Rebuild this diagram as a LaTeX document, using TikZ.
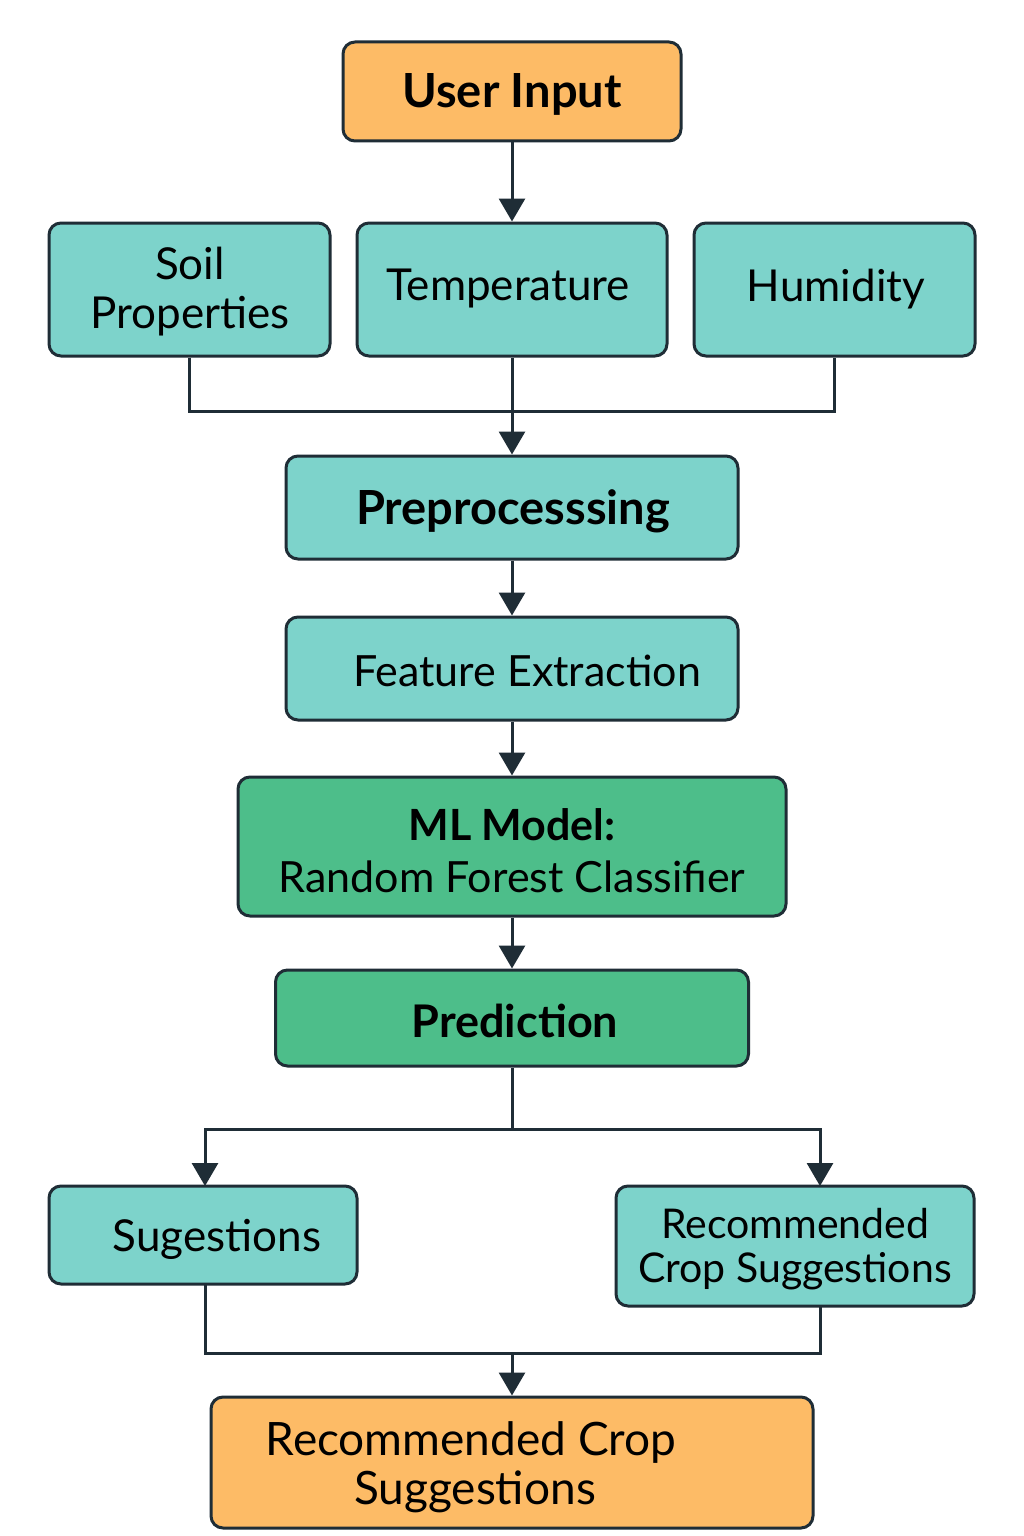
\documentclass[tikz,border=0pt]{standalone}
\usepackage{fontspec}
\setmainfont{Lato}
\usetikzlibrary{arrows.meta}
\definecolor{teal1}{HTML}{7DD3CB}
\definecolor{green1}{HTML}{4DBE8A}
\definecolor{orange1}{HTML}{FDBB66}
\definecolor{ink}{HTML}{1F2D36}
\tikzset{
  boxbase/.style={draw=ink, line width=3pt, rounded corners=12pt, inner sep=0pt, text=black, align=center},
  tealbox/.style={boxbase, fill=teal1},
  greenbox/.style={boxbase, fill=green1},
  orangebox/.style={boxbase, fill=orange1},
  lbl/.style={inner sep=0pt, align=center, text=black},
  conn/.style={draw=ink, line width=3pt},
  arr/.style={conn, -{Triangle[width=26pt,length=23pt]}},
  txt/.style={font=\fontsize{44}{49}\selectfont},
  btxt/.style={font=\fontsize{47}{49}\selectfont\bfseries},
}
\begin{document}
\begin{tikzpicture}[x=1pt,y=-1pt]
\useasboundingbox (0,0) rectangle (1024,1536);
\fill[white] (0,0) rectangle (1024,1536);

% boxes
\node[orangebox, minimum width=338pt, minimum height=99pt] (ui) at (512,91.5) {};
\node[lbl, btxt] (uitxt) at (512,94) {User Input};
\node[tealbox, minimum width=281pt, minimum height=133pt] (soil) at (189.5,289.5) {};
\node[lbl, txt] (soiltxt) at (190,292) {Soil\\Properties};
\node[tealbox, minimum width=310pt, minimum height=133pt] (temp) at (512,289.5) {};
\node[lbl, txt] (temptxt) at (508,289) {Temperature};
\node[tealbox, minimum width=281pt, minimum height=133pt] (hum) at (834.5,289.5) {};
\node[lbl, txt] (humtxt) at (836,289) {Humidity};
\node[tealbox, minimum width=452pt, minimum height=103pt] (pre) at (512,507.5) {};
\node[lbl, btxt] (pretxt) at (513,511) {Preprocesssing};
\node[tealbox, minimum width=452pt, minimum height=103pt] (feat) at (512,668.5) {};
\node[lbl, font=\fontsize{43}{49}\selectfont] (feattxt) at (527,671) {Feature Extraction};
\node[greenbox, minimum width=548pt, minimum height=139pt] (ml) at (512,846.5) {};
\node[lbl, font=\fontsize{43}{49}\selectfont\bfseries] (mltxt1) at (512,825) {ML Model:};
\node[lbl, font=\fontsize{43}{49}\selectfont] (mltxt2) at (512,877) {Random Forest Classifier};
\node[greenbox, minimum width=473pt, minimum height=96pt] (pred) at (512,1018) {};
\node[lbl, font=\fontsize{45}{49}\selectfont\bfseries] (predtxt) at (515,1021) {Prediction};
\node[tealbox, minimum width=308pt, minimum height=98pt] (sug) at (203,1235) {};
\node[lbl, txt] (sugtxt) at (217,1239) {Sugestions};
\node[tealbox, minimum width=358pt, minimum height=120pt] (rec) at (795,1246) {};
\node[lbl, font=\fontsize{41}{44}\selectfont] (rectxt) at (795,1249) {Recommended\\Crop Suggestions};
\node[orangebox, minimum width=602pt, minimum height=131pt] (fin) at (512,1462.5) {};
\node[lbl, font=\fontsize{46}{49}\selectfont] (fintxt1) at (471,1442) {Recommended Crop};
\node[lbl, font=\fontsize{46}{49}\selectfont] (fintxt2) at (475,1492) {Suggestions};

% junction coordinates
\coordinate (j1) at (512,411);
\coordinate (j2) at (512,1129);
\coordinate (j3) at (512,1353);
\coordinate (recin) at (820,1186);
\coordinate (recout) at (820,1306);
\coordinate (sugin) at (205,1186);
\coordinate (sugout) at (205,1284);

% connectors
\draw[arr] (ui.south) -- (temp.north);
\draw[conn] (soil.south) -- (soil.south |- j1) -- (hum.south |- j1) -- (hum.south);
\draw[arr] (temp.south) -- (pre.north);
\draw[arr] (pre.south) -- (feat.north);
\draw[arr] (feat.south) -- (ml.north);
\draw[arr] (ml.south) -- (pred.north);
\draw[conn] (pred.south) -- (j2);
\draw[arr] (j2) -| (sugin);
\draw[arr] (j2) -| (recin);
\draw[conn] (sugout) |- (j3) -| (recout);
\draw[arr] (j3) -- (fin.north);
\end{tikzpicture}
\end{document}
